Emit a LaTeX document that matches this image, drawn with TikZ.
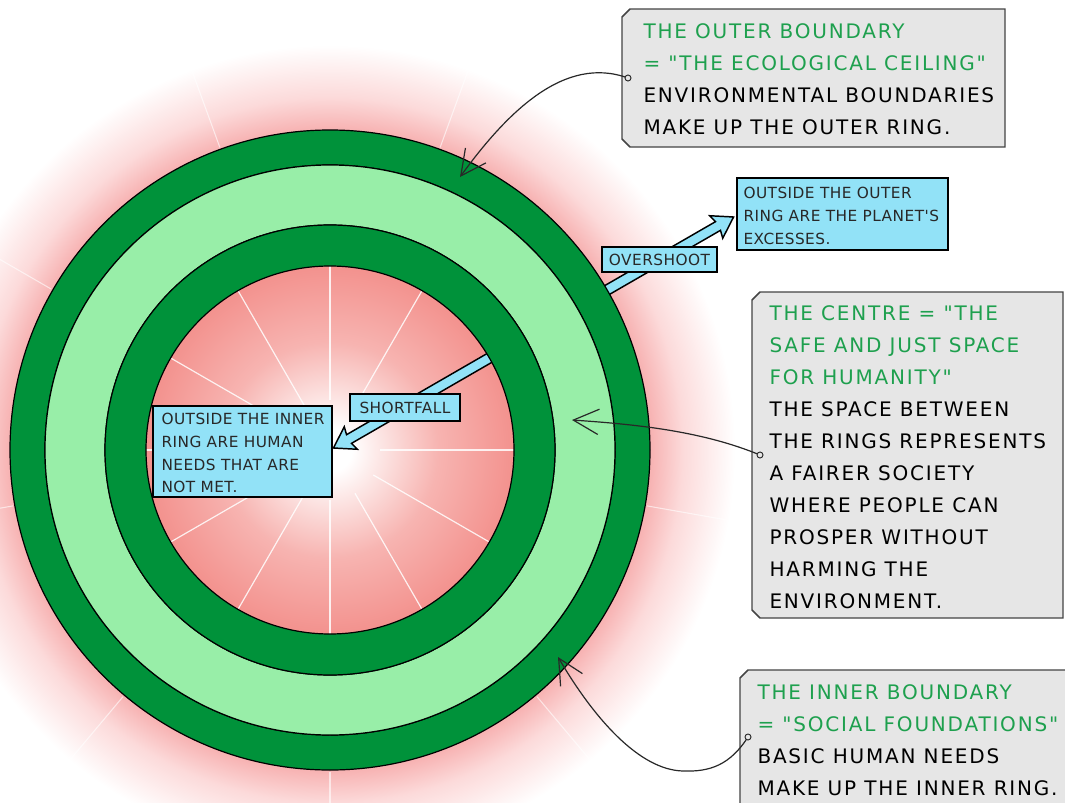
\documentclass[tikz,border=0pt]{standalone}
\usepackage{fontspec}
\newfontfamily\notefont[LetterSpace=9]{DejaVu Sans}
\newfontfamily\tagfont[LetterSpace=3]{DejaVu Sans}
\usetikzlibrary{arrows.meta}
\tikzset{every picture/.style={line width=0.75pt}}

\definecolor{ringdark}{RGB}{0,146,58}
\definecolor{ringlight}{RGB}{152,238,168}
\definecolor{notegreen}{RGB}{30,160,78}
\definecolor{notegray}{RGB}{230,230,230}
\definecolor{noteedge}{RGB}{68,68,68}
\definecolor{tagblue}{RGB}{146,226,247}
\definecolor{inkgray}{RGB}{40,40,40}
\definecolor{glowcore}{RGB}{253,236,235}
\definecolor{glowmid}{RGB}{247,180,177}
\definecolor{glowdeep}{RGB}{243,146,142}
\definecolor{glowrim}{RGB}{247,178,178}
\definecolor{glowfade}{RGB}{252,218,218}

\pgfdeclareradialshading{glow}{\pgfpoint{0bp}{0bp}}{%
  color(0bp)=(white); color(1.2bp)=(white); color(2.4bp)=(glowcore);
  color(6bp)=(glowmid); color(10.2bp)=(glowdeep); color(17.8bp)=(glowrim);
  color(19.6bp)=(glowfade); color(22.5bp)=(white); color(50bp)=(white)}

\tikzset{
  darkband/.style={fill=ringdark, draw=black, line width=0.9pt, even odd rule},
  lightband/.style={fill=ringlight, draw=black, line width=0.9pt, even odd rule},
  spoke/.style={draw=white, line width=0.9pt, opacity=0.85},
  farspoke/.style={draw=white, line width=0.8pt, opacity=0.6},
  fatarrow/.style={fill=tagblue, draw=black, line width=1.1pt},
  noteframe/.style={inner sep=0pt, outer sep=0pt, anchor=north west},
  notebox/.style={fill=notegray, draw=noteedge, line width=1.1pt},
  notetext/.style={inner sep=0pt, anchor=north west, align=left,
    font=\notefont\fontsize{15}{24}\selectfont, text=black},
  tagbox/.style={rectangle, fill=tagblue, draw=black, line width=1.1pt, inner sep=0pt,
    outer sep=0pt, anchor=north west, text=inkgray, font=\tagfont\fontsize{11.5}{17}\selectfont},
  tagtext/.style={inner sep=0pt, anchor=north west, align=left,
    font=\tagfont\fontsize{11.5}{17}\selectfont, text=inkgray},
  leaderline/.style={draw=inkgray, line width=0.9pt, -{Straight Barb[length=19pt,width=19pt]}},
  dotmark/.style={draw=inkgray, fill=notegray, line width=0.7pt}
}
% grey note with both left corners cut off
\newcommand{\cutbox}[1]{%
  \draw[notebox] ([shift={(8,0)}]#1.north west) -- (#1.north east) -- (#1.south east)
    -- ([shift={(8,0)}]#1.south west) -- ([shift={(0,-8)}]#1.south west)
    -- ([shift={(0,8)}]#1.north west) -- cycle;}

\begin{document}
\begin{tikzpicture}[x=0.75pt,y=0.75pt,yscale=-1,xscale=1]
\useasboundingbox (0,0) rectangle (1065,803);
\clip (0,0) rectangle (1065,803);
\coordinate (hub) at (330,450);

%Shape: Circle [glow behind the rings]
\shade[shading=glow] (hub) circle[radius=450];

%Straight Lines [spokes in the centre]
\foreach \a in {0,30,...,330}
  \draw[spoke] ([shift={(\a:50)}]hub) -- ([shift={(\a:184)}]hub);
%Straight Lines [spokes outside]
\foreach \a in {-30,-70,...,-350}
  \draw[farspoke] ([shift={(\a:322)}]hub) -- ([shift={(\a:450)}]hub);

%Shape: Arrows [overshoot and shortfall]
\begin{scope}[shift={(hub)}, rotate=-30]
\draw[fatarrow] (310,-5) -- (448,-5) -- (446,-13) -- (466,0) -- (446,13) -- (448,5) -- (310,5) -- cycle;
\draw[fatarrow] (192,-5) -- (22,-5) -- (24,-13) -- (4,0) -- (24,13) -- (22,5) -- (192,5) -- cycle;
\end{scope}

%Shape: Rings
\draw[darkband] (hub) circle[radius=320] (hub) circle[radius=285];
\draw[lightband] (hub) circle[radius=285] (hub) circle[radius=225];
\draw[darkband] (hub) circle[radius=225] (hub) circle[radius=184];

% Text Node
\node[noteframe, minimum width=287.25pt, minimum height=103.5pt] (outerbox) at (622,9) {};
\cutbox{outerbox}
\node[notetext] (outertext) at (643,23) {\textcolor{notegreen}{THE OUTER BOUNDARY}\\
  \textcolor{notegreen}{= "THE ECOLOGICAL CEILING"}\\
  ENVIRONMENTAL BOUNDARIES\\
  MAKE UP THE OUTER RING.};
% Text Node
\node[tagbox, minimum width=158.25pt, minimum height=54pt] (overbox) at (737,178) {};
\node[tagtext] (overtext) at (743,187) {OUTSIDE THE OUTER\\RING ARE THE PLANET'S\\EXCESSES.};
% Text Node
\node[tagbox, minimum width=86.25pt, minimum height=18.75pt] (overtag) at (602,247) {OVERSHOOT};
% Text Node
\node[tagbox, minimum width=82.5pt, minimum height=20.25pt] (shorttag) at (350,394) {SHORTFALL};
% Text Node
\node[tagbox, minimum width=134.25pt, minimum height=68.25pt] (innerbox) at (153,406) {};
\node[tagtext] (innertext) at (161,413) {OUTSIDE THE INNER\\RING ARE HUMAN\\NEEDS THAT ARE\\NOT MET.};
% Text Node
\node[noteframe, minimum width=233.25pt, minimum height=244.5pt] (centrebox) at (752,292) {};
\cutbox{centrebox}
\node[notetext] (centretext) at (769,305) {\textcolor{notegreen}{THE CENTRE = "THE}\\
  \textcolor{notegreen}{SAFE AND JUST SPACE}\\
  \textcolor{notegreen}{FOR HUMANITY"}\\
  THE SPACE BETWEEN\\
  THE RINGS REPRESENTS\\
  A FAIRER SOCIETY\\
  WHERE PEOPLE CAN\\
  PROSPER WITHOUT\\
  HARMING THE\\
  ENVIRONMENT.};
% Text Node
\node[noteframe, minimum width=255pt, minimum height=127.5pt] (basebox) at (740,670) {};
\cutbox{basebox}
\node[notetext] (basetext) at (757,684) {\textcolor{notegreen}{THE INNER BOUNDARY}\\
  \textcolor{notegreen}{= "SOCIAL FOUNDATIONS"}\\
  BASIC HUMAN NEEDS\\
  MAKE UP THE INNER RING.};

%Curve Lines [pointers]
\coordinate (outertip) at (460,177);
\coordinate (centretip) at (572,420);
\coordinate (basetip) at (558,657);
\coordinate (outerpin) at ([xshift=4.5]outerbox.west);
\coordinate (centrepin) at ([xshift=6]centrebox.west);
\coordinate (basepin) at (748,737);
\draw[leaderline] (outerpin) .. controls (565,55) and (508,111) .. (outertip);
\draw[leaderline] (centrepin) .. controls (700,430) and (630,424) .. (centretip);
\draw[leaderline] (basepin) .. controls (730,765) and (710,772) .. (683,771) .. controls (640,770) and (595,720) .. (basetip);
\draw[dotmark] (outerpin) circle[radius=3];
\draw[dotmark] (centrepin) circle[radius=3];
\draw[dotmark] (basepin) circle[radius=3];
\end{tikzpicture}
\end{document}
